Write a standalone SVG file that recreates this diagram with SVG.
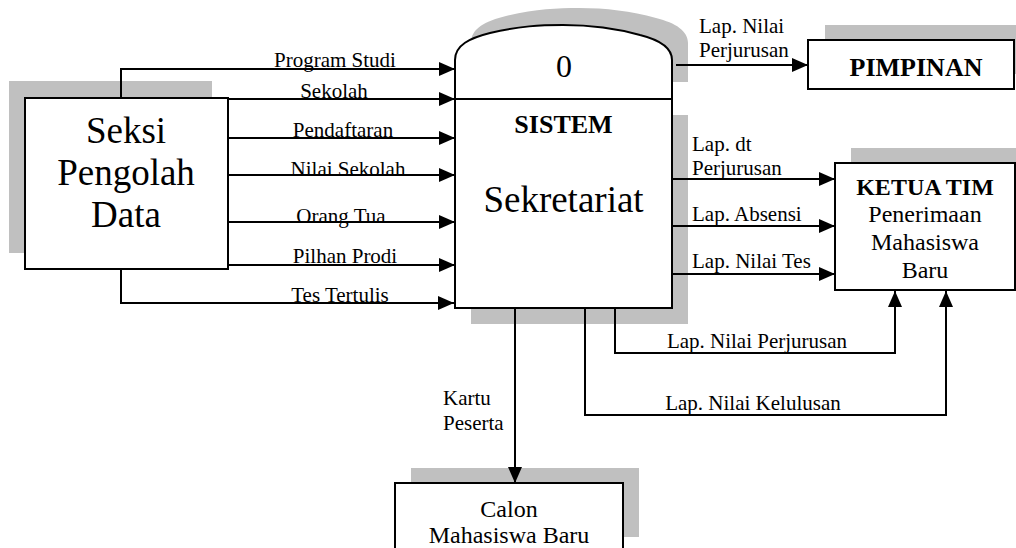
<svg xmlns="http://www.w3.org/2000/svg" width="1016" height="548" viewBox="0 0 1016 548">
<style>
.sh{fill:#c0c0c0;stroke:none}
.bx{fill:#fff;stroke:#000;stroke-width:2}
.ln{fill:none;stroke:#000;stroke-width:2}
text{font-family:"Liberation Serif","Times New Roman",serif;fill:#000}
.lb{font-size:21px}
.big{font-size:37px}
.nd{font-size:24px}
.b{font-weight:bold}
.m{text-anchor:middle}
</style>
<defs>
<marker id="ah" markerUnits="userSpaceOnUse" markerWidth="16" markerHeight="14" refX="16" refY="7" orient="auto" viewBox="0 0 16 14">
<path d="M0,0 L16,7 L0,14 z" fill="#000"/>
</marker>
</defs>
<rect width="1016" height="548" fill="#fff"/>
<g id="seksi">
<rect class="sh" x="9" y="81" width="203" height="172"/>
<rect class="bx" x="25" y="98" width="203" height="171"/>
<text class="big m" x="126" y="143">Seksi</text>
<text class="big m" x="126" y="185">Pengolah</text>
<text class="big m" x="126" y="227">Data</text>
</g>
<g id="sistem">
<path class="sh" d="M471,82 V43 C471,28 486,21 506,16 C536,9 556,8 579,8 C606,8 631,11 656,18 C676,23 688,31 688,43 V82 Z"/>
<rect class="sh" x="471" y="115" width="217" height="209"/>
<path class="bx" d="M455,308 V60 C455,45 470,38 490,33 C520,26 540,25 563,25 C590,25 615,28 640,35 C660,40 672,48 672,60 V308 Z"/>
<line class="ln" x1="455" y1="99" x2="672" y2="99"/>
<text class="m" x="564" y="77" font-size="32">0</text>
<text class="b m" x="563.5" y="133" font-size="26">SISTEM</text>
<text class="big m" x="563.5" y="212">Sekretariat</text>
</g>
<g id="pimpinan">
<rect class="sh" x="825" y="25" width="200" height="49"/>
<rect class="bx" x="808" y="40" width="206" height="49"/>
<text class="b m" x="916" y="76" font-size="26">PIMPINAN</text>
</g>
<g id="ketua">
<rect class="sh" x="851" y="148" width="180" height="127"/>
<rect class="bx" x="835" y="163" width="180" height="127"/>
<text class="nd b m" x="925" y="195">KETUA TIM</text>
<text class="nd m" x="925" y="222">Penerimaan</text>
<text class="nd m" x="925" y="250">Mahasiswa</text>
<text class="nd m" x="925" y="278">Baru</text>
</g>
<g id="calon">
<rect class="sh" x="411" y="468" width="228" height="69"/>
<rect class="bx" x="395" y="483" width="228" height="69"/>
<text class="nd m" x="509" y="517">Calon</text>
<text class="nd m" x="509" y="543">Mahasiswa Baru</text>
</g>
<g id="connectors">
<path class="ln" marker-end="url(#ah)" d="M121,98 V69 H455"/>
<path class="ln" marker-end="url(#ah)" d="M228,99 H455"/>
<path class="ln" marker-end="url(#ah)" d="M228,138 H455"/>
<path class="ln" marker-end="url(#ah)" d="M228,175 H455"/>
<path class="ln" marker-end="url(#ah)" d="M228,222 H455"/>
<path class="ln" marker-end="url(#ah)" d="M228,265 H455"/>
<path class="ln" marker-end="url(#ah)" d="M121,269 V303 H454"/>
<path class="ln" marker-end="url(#ah)" d="M676,65 H808"/>
<path class="ln" marker-end="url(#ah)" d="M672,179 H835"/>
<path class="ln" marker-end="url(#ah)" d="M672,226 H835"/>
<path class="ln" marker-end="url(#ah)" d="M672,274 H835"/>
<path class="ln" marker-end="url(#ah)" d="M615,308 V353 H895 V291"/>
<path class="ln" marker-end="url(#ah)" d="M585,308 V415 H946 V291"/>
<path class="ln" marker-end="url(#ah)" d="M515,308 V483"/>
<text class="lb m" x="335" y="67">Program Studi</text>
<text class="lb m" x="334" y="98">Sekolah</text>
<text class="lb m" x="343" y="137">Pendaftaran</text>
<text class="lb m" x="348" y="176">Nilai Sekolah</text>
<text class="lb m" x="341" y="223">Orang Tua</text>
<text class="lb m" x="345" y="263">Pilhan Prodi</text>
<text class="lb m" x="340" y="302">Tes Tertulis</text>
<text class="lb" x="699" y="33">Lap. Nilai</text>
<text class="lb" x="699" y="57">Perjurusan</text>
<text class="lb" x="692" y="151">Lap. dt</text>
<text class="lb" x="692" y="175">Perjurusan</text>
<text class="lb" x="692" y="221">Lap. Absensi</text>
<text class="lb" x="692" y="268">Lap. Nilai Tes</text>
<text class="lb m" x="757" y="348">Lap. Nilai Perjurusan</text>
<text class="lb m" x="753" y="410">Lap. Nilai Kelulusan</text>
<text class="lb" x="443" y="405">Kartu</text>
<text class="lb" x="443" y="430">Peserta</text>
</g>
</svg>
